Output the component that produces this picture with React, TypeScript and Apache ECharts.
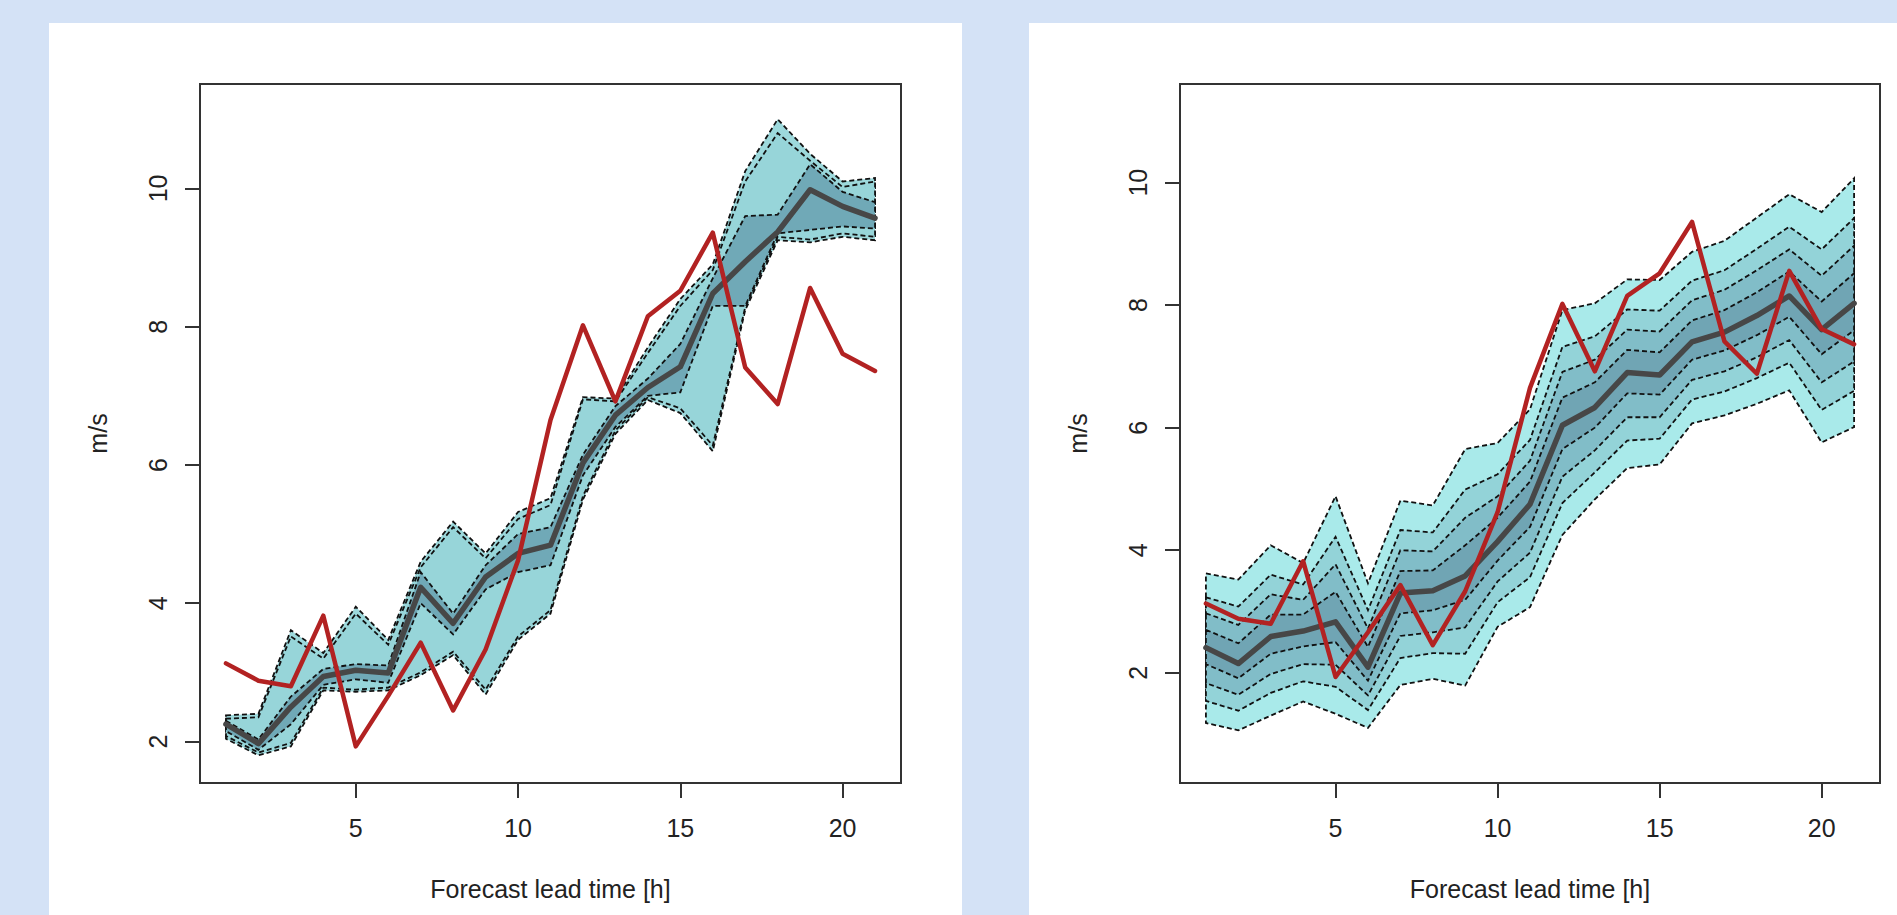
import React, { useEffect, useRef } from "react";
import * as echarts from "echarts";

// ---------- data ----------
const leadTimes = [1, 2, 3, 4, 5, 6, 7, 8, 9, 10, 11, 12, 13, 14, 15, 16, 17, 18, 19, 20, 21];
const xTicks = [5, 10, 15, 20];
const yTicks = [2, 4, 6, 8, 10];

// observed wind speed (red), shared by both panels
const observed = [3.13, 2.88, 2.80, 3.82, 1.93, 2.66, 3.43, 2.45, 3.33, 4.62, 6.65, 8.02, 6.92, 8.15, 8.52, 9.36, 7.41, 6.88, 8.56, 7.61, 7.36];

// left panel: raw ensemble quantiles
const leftUpper = [2.38, 2.40, 3.61, 3.28, 3.95, 3.47, 4.60, 5.18, 4.72, 5.32, 5.52, 6.98, 6.96, 7.70, 8.40, 8.90, 10.25, 11.00, 10.50, 10.10, 10.15];
const leftUpper2 = [2.33, 2.35, 3.52, 3.20, 3.85, 3.40, 4.52, 5.10, 4.65, 5.22, 5.42, 6.95, 6.92, 7.62, 8.30, 8.82, 10.10, 10.80, 10.40, 10.02, 10.10];
const leftInnerUp = [2.30, 2.03, 2.65, 3.05, 3.12, 3.10, 4.45, 3.85, 4.55, 5.00, 5.10, 6.15, 6.85, 7.25, 7.75, 8.70, 9.60, 9.62, 10.35, 9.95, 9.80];
const leftMedian = [2.25, 1.97, 2.50, 2.94, 3.03, 2.99, 4.23, 3.71, 4.38, 4.72, 4.84, 6.03, 6.72, 7.12, 7.42, 8.48, 8.94, 9.37, 9.98, 9.74, 9.57];
const leftInnerLo = [2.15, 1.88, 2.25, 2.82, 2.90, 2.85, 4.00, 3.55, 4.20, 4.45, 4.55, 5.85, 6.55, 7.00, 7.05, 8.30, 8.30, 9.35, 9.40, 9.45, 9.42];
const leftLower2 = [2.08, 1.84, 1.98, 2.78, 2.75, 2.78, 3.00, 3.30, 2.75, 3.52, 3.90, 5.55, 6.50, 6.98, 6.82, 6.28, 8.28, 9.30, 9.26, 9.35, 9.30];
const leftLower = [2.04, 1.80, 1.93, 2.74, 2.72, 2.74, 2.96, 3.25, 2.68, 3.47, 3.85, 5.50, 6.45, 6.94, 6.75, 6.20, 8.24, 9.25, 9.22, 9.30, 9.25];

// right panel: post-processed predictive quantiles
const rightQ95 = [3.62, 3.52, 4.08, 3.79, 4.88, 3.46, 4.81, 4.73, 5.65, 5.75, 6.30, 7.92, 8.03, 8.42, 8.41, 8.87, 9.05, 9.43, 9.81, 9.52, 10.07];
const rightQ85 = [3.23, 3.08, 3.60, 3.44, 4.22, 3.02, 4.33, 4.29, 4.99, 5.24, 5.80, 7.32, 7.49, 7.93, 7.91, 8.40, 8.57, 8.92, 9.28, 8.91, 9.42];
const rightQ75 = [2.97, 2.78, 3.28, 3.19, 3.77, 2.72, 4.00, 3.98, 4.53, 4.88, 5.46, 6.91, 7.11, 7.60, 7.57, 8.08, 8.25, 8.57, 8.91, 8.48, 8.97];
const rightQ65 = [2.70, 2.48, 2.95, 2.95, 3.32, 2.42, 3.66, 3.67, 4.08, 4.53, 5.12, 6.49, 6.74, 7.27, 7.23, 7.75, 7.92, 8.21, 8.55, 8.06, 8.52];
const rightMedian = [2.41, 2.15, 2.59, 2.68, 2.83, 2.09, 3.30, 3.34, 3.58, 4.14, 4.75, 6.04, 6.33, 6.90, 6.86, 7.40, 7.56, 7.83, 8.15, 7.60, 8.03];
const rightQ35 = [2.14, 1.91, 2.31, 2.43, 2.50, 1.87, 2.97, 3.02, 3.19, 3.83, 4.38, 5.65, 6.00, 6.56, 6.54, 7.11, 7.26, 7.51, 7.81, 7.20, 7.59];
const rightQ25 = [1.83, 1.64, 1.98, 2.14, 2.13, 1.63, 2.60, 2.66, 2.74, 3.49, 3.96, 5.20, 5.63, 6.17, 6.17, 6.78, 6.92, 7.15, 7.43, 6.74, 7.08];
const rightQ15 = [1.54, 1.38, 1.67, 1.86, 1.77, 1.39, 2.24, 2.32, 2.31, 3.15, 3.56, 4.77, 5.27, 5.79, 5.82, 6.46, 6.59, 6.81, 7.06, 6.29, 6.60];
const rightQ05 = [1.18, 1.06, 1.30, 1.53, 1.33, 1.10, 1.80, 1.90, 1.79, 2.75, 3.07, 4.25, 4.83, 5.34, 5.40, 6.07, 6.20, 6.39, 6.61, 5.76, 6.01];

const xLabel = "Forecast lead time [h]";
const yLabel = "m/s";

// ---------- chart ----------
const FONT = "Liberation Sans, Arial, Helvetica, sans-serif";
const TEXT = "#222";

type Band = { lo: number[]; hi: number[]; color: string };

function bandSeries(idx: number, bands: Band[]) {
  return {
    type: "custom",
    xAxisIndex: idx,
    yAxisIndex: idx,
    silent: true,
    z: 1,
    data: bands.map((_, i) => [i, 0]),
    encode: { x: 0, y: 1 },
    renderItem: (params: any, api: any) => {
      const b = bands[params.dataIndex];
      const pts: number[][] = [];
      leadTimes.forEach((t, i) => pts.push(api.coord([t, b.hi[i]])));
      for (let i = leadTimes.length - 1; i >= 0; i--) pts.push(api.coord([leadTimes[i], b.lo[i]]));
      return {
        type: "polygon",
        shape: { points: pts },
        style: { fill: b.color, stroke: "#111", lineWidth: 1.8, lineDash: [5, 3] },
      };
    },
  };
}

function lineSeries(idx: number, vals: number[], color: string, width: number, z: number) {
  return {
    type: "line",
    xAxisIndex: idx,
    yAxisIndex: idx,
    silent: true,
    symbol: "none",
    z,
    data: leadTimes.map((t, i) => [t, vals[i]]),
    lineStyle: { color, width, join: "round", cap: "round" },
  };
}

function xAxis(idx: number) {
  return {
    gridIndex: idx,
    type: "value",
    min: 0.2,
    max: 21.8,
    axisLine: { show: false },
    splitLine: { show: false },
    axisTick: { show: true, customValues: xTicks, length: 15, lineStyle: { color: "#333", width: 2 } },
    axisLabel: { customValues: xTicks, margin: 32, fontSize: 25, color: TEXT, fontFamily: FONT },
    name: xLabel,
    nameLocation: "middle",
    nameGap: 93,
    nameTextStyle: { fontSize: 25, color: TEXT, fontFamily: FONT },
  };
}

function yAxis(idx: number, min: number, max: number) {
  return {
    gridIndex: idx,
    type: "value",
    min,
    max,
    axisLine: { show: false },
    splitLine: { show: false },
    axisTick: { show: true, customValues: yTicks, length: 15, lineStyle: { color: "#333", width: 2 } },
    axisLabel: { customValues: yTicks, rotate: 90, margin: 30, fontSize: 25, color: TEXT, fontFamily: FONT },
    name: yLabel,
    nameLocation: "middle",
    nameGap: 90,
    nameRotate: 90,
    nameTextStyle: { fontSize: 25, color: TEXT, fontFamily: FONT },
  };
}

export default function App() {
  const ref = useRef<HTMLDivElement>(null);

  useEffect(() => {
    if (!ref.current) return;
    const chart = echarts.init(ref.current, undefined, { renderer: "svg" });

    const leftBands: Band[] = [
      { lo: leftLower, hi: leftUpper, color: "#9dd9dc" },
      { lo: leftLower2, hi: leftUpper2, color: "#97d5d9" },
      { lo: leftInnerLo, hi: leftInnerUp, color: "#70a9b7" },
    ];
    const rightBands: Band[] = [
      { lo: rightQ05, hi: rightQ95, color: "#a9eaea" },
      { lo: rightQ15, hi: rightQ85, color: "#93d3d8" },
      { lo: rightQ25, hi: rightQ75, color: "#81bdc8" },
      { lo: rightQ35, hi: rightQ65, color: "#70a5b4" },
    ];

    const option: any = {
      animation: false,
      backgroundColor: "#d4e2f6",
      graphic: [
        { type: "rect", silent: true, z: -100, shape: { x: 49, y: 23, width: 913, height: 900 }, style: { fill: "#ffffff" } },
        { type: "rect", silent: true, z: -100, shape: { x: 1029, y: 23, width: 880, height: 900 }, style: { fill: "#ffffff" } },
      ],
      grid: [
        { left: 200, top: 84, width: 701, height: 699, show: true, borderColor: "#333", borderWidth: 2, backgroundColor: "transparent" },
        { left: 1180, top: 84, width: 700, height: 699, show: true, borderColor: "#333", borderWidth: 2, backgroundColor: "transparent" },
      ],
      xAxis: [xAxis(0), xAxis(1)],
      yAxis: [yAxis(0, 1.4, 11.51), yAxis(1, 0.2, 11.61)],
      series: [
        bandSeries(0, leftBands),
        lineSeries(0, leftMedian, "#474747", 5.5, 3),
        lineSeries(0, observed, "#b22222", 4.5, 4),
        bandSeries(1, rightBands),
        lineSeries(1, rightMedian, "#474747", 5.5, 3),
        lineSeries(1, observed, "#b22222", 4.5, 4),
      ],
    };
    chart.setOption(option);
    return () => chart.dispose();
  }, []);

  return (
    <div
      ref={ref}
      style={{ position: "fixed", left: 0, top: 0, width: "1897px", height: "915px" }}
    />
  );
}
